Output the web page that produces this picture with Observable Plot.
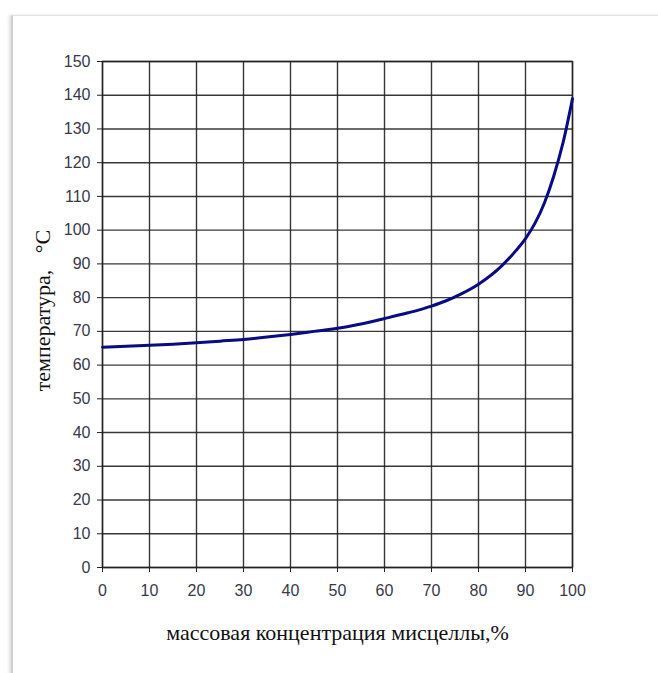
<!DOCTYPE html>
<html>
<head>
<meta charset="utf-8">
<script src="https://cdn.jsdelivr.net/npm/d3@7"></script>
<script src="https://cdn.jsdelivr.net/npm/@observablehq/plot@0.6"></script>
<style>
  html, body { margin: 0; padding: 0; background: #fff; }
  #wrap { position: relative; width: 658px; height: 673px; overflow: hidden; background: #fff; }
  #card { position: absolute; left: 11px; top: 15px; width: 700px; height: 700px;
          border-left: 2px solid #cfcfcf; border-top: 1px solid #e2e2e2;
          box-shadow: -2px 0 3px rgba(0,0,0,0.12); background: #fff; }
  #chart { position: absolute; left: 0; top: 0; }
</style>
</head>
<body>
<div id="wrap"><div id="card"></div><div id="chart"></div></div>
<script>
const concentration = [0, 5, 10, 15, 20, 25, 30, 35, 40, 45, 50, 55, 60, 65, 70, 73, 76, 80, 85, 88, 90, 92, 94, 96, 98, 100];
const temperature   = [65.3, 65.6, 65.9, 66.2, 66.6, 67.1, 67.6, 68.3, 69.1, 70.0, 70.9, 72.2, 73.8, 75.5, 77.5, 79.0, 80.9, 84.0, 89.5, 94.0, 97.5, 102, 108, 116, 126, 139];
const xTicks = d3.range(0, 101, 10);
const yTicks = d3.range(0, 151, 10);
const xLabel = "массовая концентрация мисцеллы,%";
const yLabel = "температура,\u00a0\u00a0\u00a0°С";

const data = concentration.map((c, i) => ({c, t: temperature[i]}));

const chart = Plot.plot({
  width: 658,
  height: 673,
  marginLeft: 102,
  marginRight: 86,
  marginTop: 61,
  marginBottom: 106,
  style: {background: "transparent", fontFamily: "Liberation Sans, Arial, sans-serif", fontSize: "16px", color: "#383848"},
  x: {domain: [0, 100]},
  y: {domain: [0, 150]},
  marks: [
    Plot.gridX(xTicks, {stroke: "#222", strokeOpacity: 0.9, strokeWidth: 1.4}),
    Plot.gridY(yTicks, {stroke: "#222", strokeOpacity: 0.9, strokeWidth: 1.4}),
    Plot.frame({stroke: "#222", strokeWidth: 1.4}),
    Plot.axisX(xTicks, {tickSize: 5, tickPadding: 12, label: null, stroke: "#222", fill: "#383848", tickFormat: d => d}),
    Plot.axisY(yTicks, {tickSize: 5, tickPadding: 7, label: null, stroke: "#222", fill: "#383848", tickFormat: d => d}),
    Plot.line(data, {x: "c", y: "t", stroke: "#0a0a82", strokeWidth: 3, curve: "monotone-x"}),
    Plot.text([xLabel], {frameAnchor: "bottom", dy: 72, fontFamily: "Liberation Serif, Times New Roman, serif", fontSize: 22, fill: "#111"}),
    Plot.text([yLabel], {frameAnchor: "left", textAnchor: "middle", dx: -60, dy: -4, rotate: -90, fontFamily: "Liberation Serif, Times New Roman, serif", fontSize: 22, fill: "#111"})
  ]
});
document.getElementById("chart").appendChild(chart);
</script>
</body>
</html>
